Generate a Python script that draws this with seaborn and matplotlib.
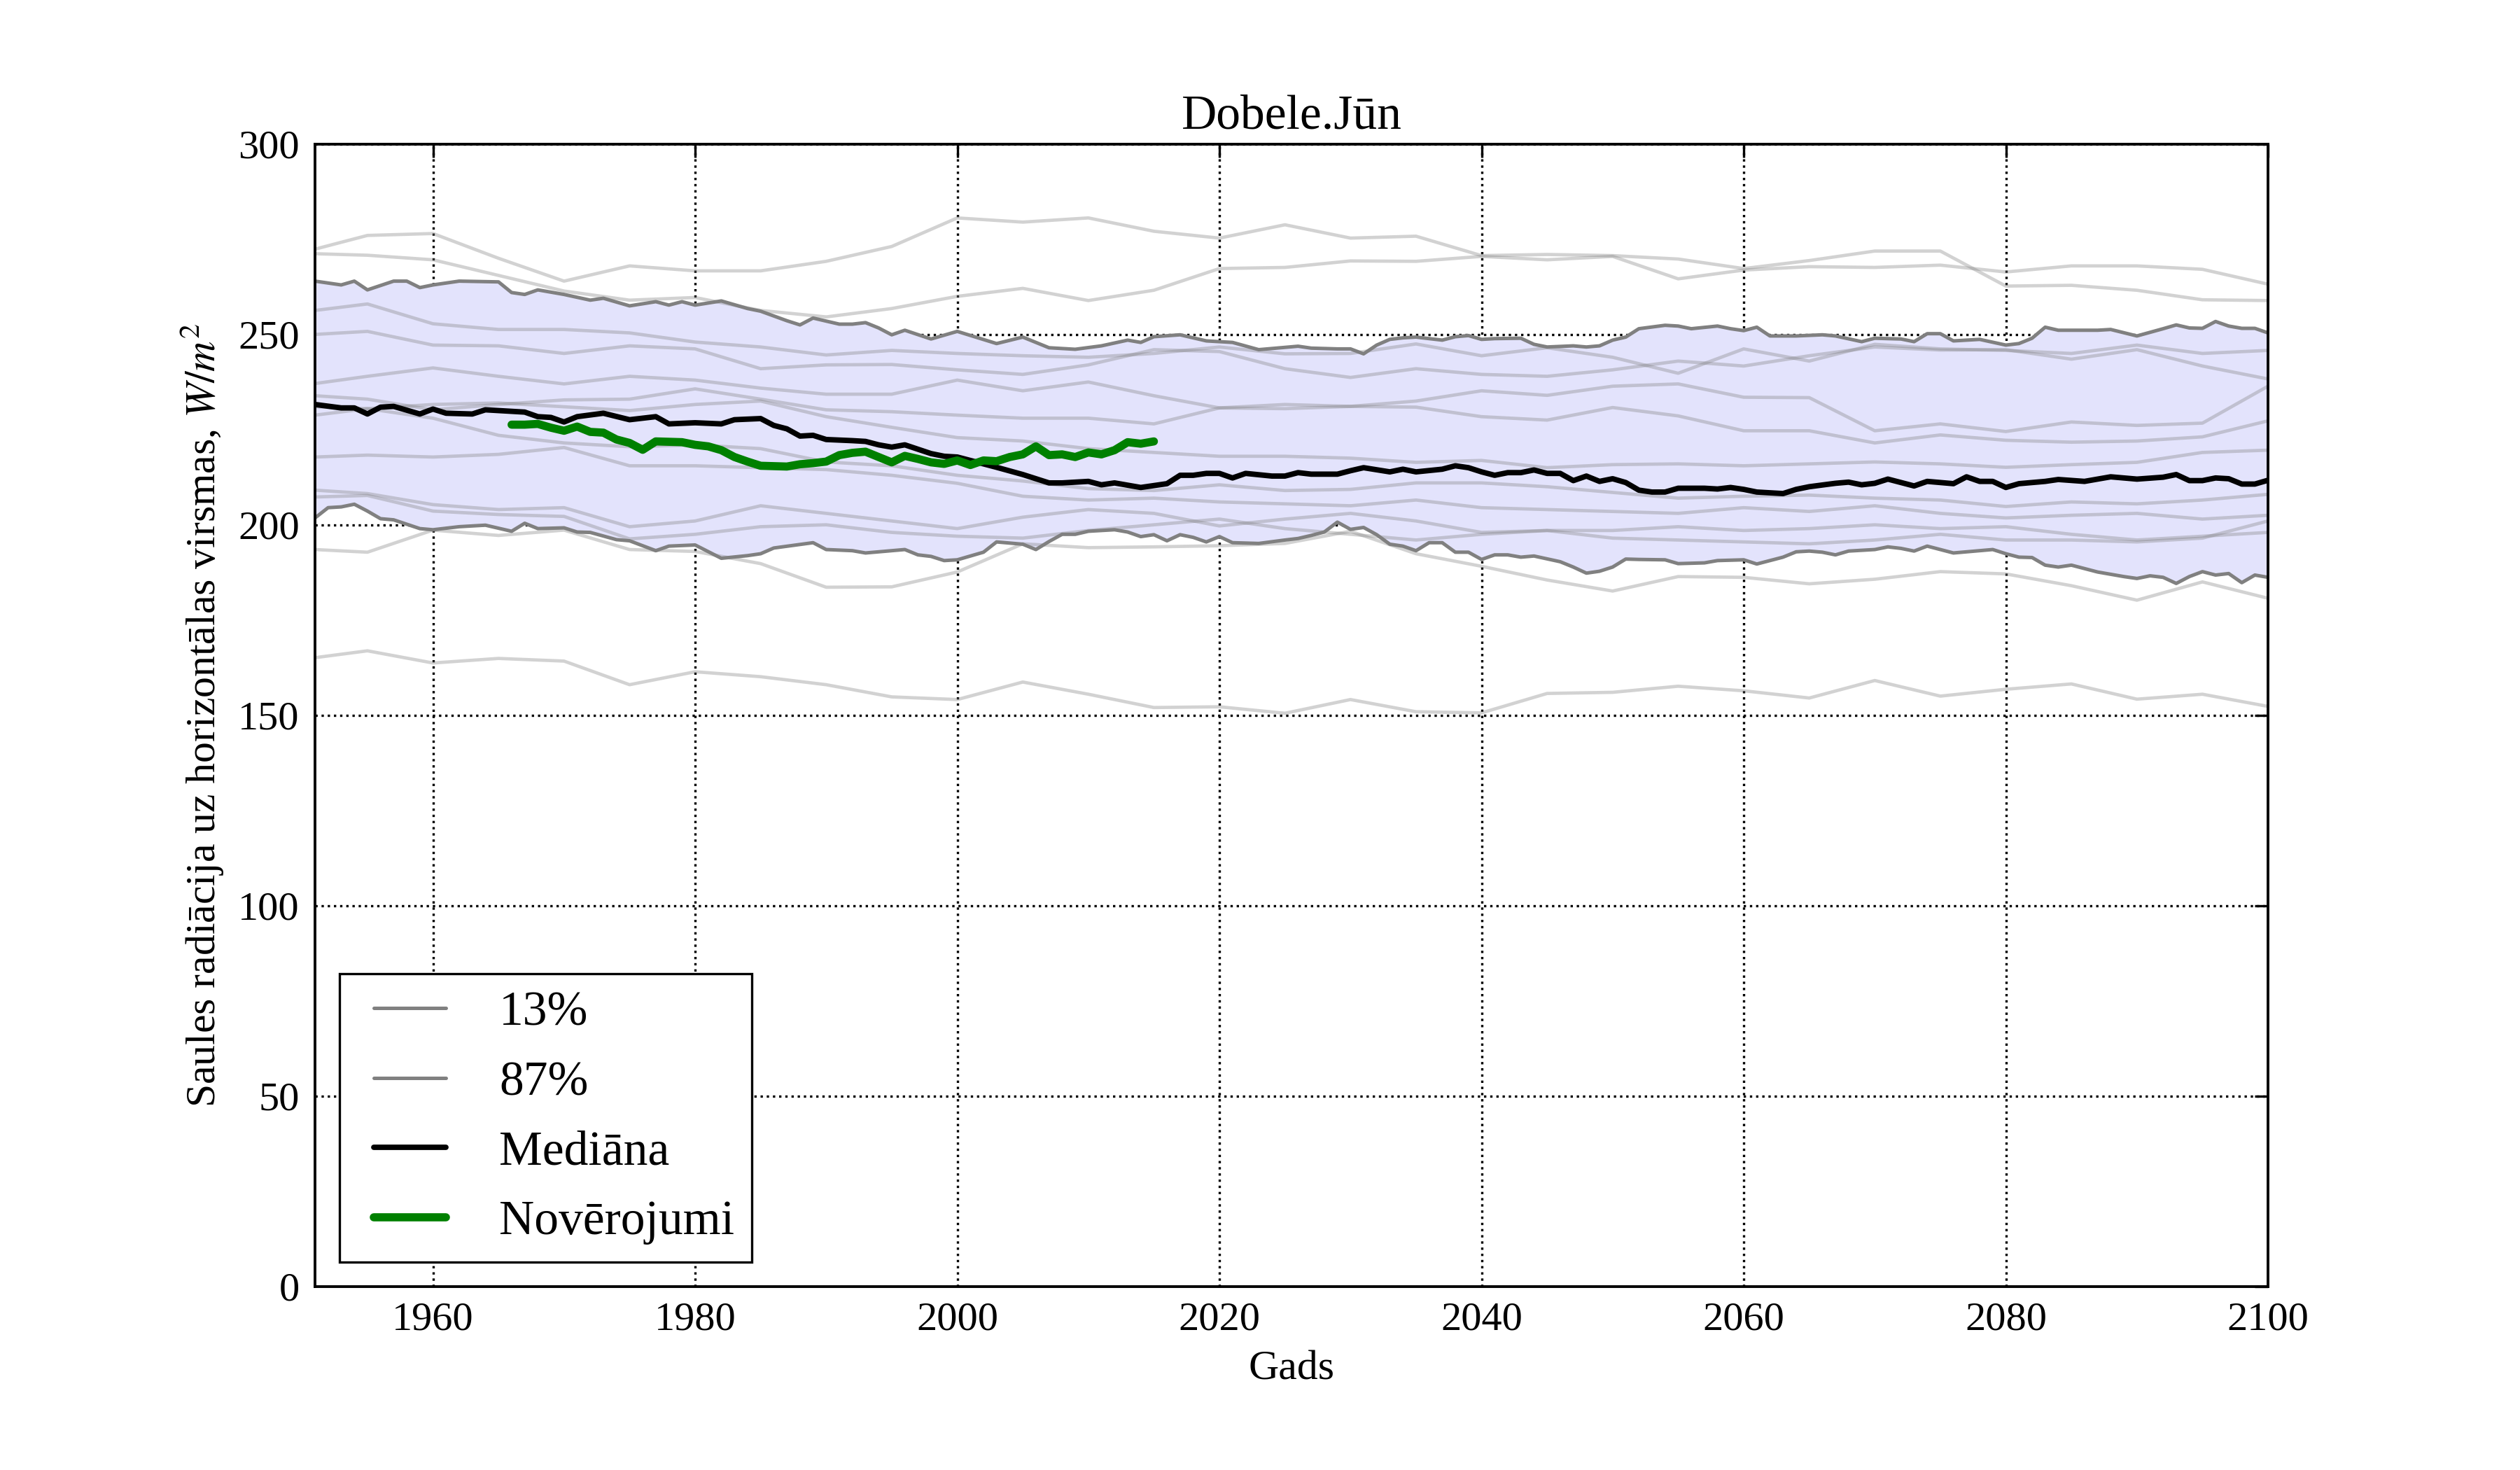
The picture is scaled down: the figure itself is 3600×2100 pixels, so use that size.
import matplotlib
matplotlib.use('Agg')
import pandas as pd
import matplotlib.pyplot as plt
import seaborn as sns
from matplotlib.lines import Line2D
from matplotlib.legend_handler import HandlerLine2D

# years of the smoothed model runs (5-year steps)
years = [1951, 1955, 1960, 1965, 1970, 1975, 1980, 1985, 1990, 1995, 2000,
         2005, 2010, 2015, 2020, 2025, 2030, 2035, 2040, 2045, 2050, 2055,
         2060, 2065, 2070, 2075, 2080, 2085, 2090, 2095, 2100]

# individual model runs (light grey)
model_a = [272.4, 276.0, 276.5, 270.0, 264.0, 268.0, 266.7, 266.7, 269.2, 273.1, 280.6,
           279.5, 280.6, 277.1, 275.3, 278.8, 275.3, 275.8, 270.7, 271.0, 270.7, 269.8,
           267.3, 269.4, 271.9, 271.9, 262.7, 262.9, 261.6, 259.1, 258.9]
model_b = [271.2, 270.8, 269.6, 265.5, 261.4, 259.0, 259.7, 256.3, 254.6, 256.8, 260.0,
           262.1, 258.9, 261.6, 267.3, 267.6, 269.3, 269.2, 270.5, 269.6, 270.5, 264.6,
           266.9, 267.8, 267.6, 268.2, 266.4, 268.0, 268.0, 267.1, 263.2]
model_c = [256.3, 258.0, 252.8, 251.3, 251.3, 250.4, 248.0, 246.7, 244.6, 245.8, 245.0,
           244.4, 244.0, 245.0, 246.7, 244.9, 245.0, 247.5, 244.4, 246.5, 244.0, 239.8,
           246.2, 243.0, 247.4, 246.2, 245.8, 245.0, 247.2, 245.0, 245.8]
model_d = [250.0, 250.8, 247.2, 247.0, 245.0, 247.0, 246.2, 241.0, 242.0, 242.1, 240.7,
           239.5, 242.0, 246.0, 245.5, 241.0, 238.7, 241.0, 239.5, 239.0, 240.7, 243.0,
           241.7, 244.4, 246.7, 245.9, 246.0, 243.5, 246.0, 241.7, 238.3]
model_e = [237.1, 239.0, 241.2, 239.0, 237.0, 239.0, 238.0, 235.9, 234.3, 234.3, 238.0,
           235.2, 237.5, 233.9, 230.7, 231.6, 231.1, 232.5, 235.2, 234.0, 236.4, 237.0,
           233.5, 233.4, 224.7, 226.5, 224.5, 227.0, 226.1, 226.7, 236.4]
model_f = [233.9, 233.0, 230.2, 231.6, 232.8, 233.0, 235.7, 233.0, 230.2, 229.7, 228.8,
           228.0, 228.0, 226.5, 230.7, 230.5, 231.1, 230.9, 228.4, 227.5, 230.8, 228.6,
           224.7, 224.7, 221.5, 223.6, 222.2, 221.7, 222.0, 223.1, 227.3]
model_g = [231.0, 230.5, 231.6, 232.0, 231.0, 230.0, 231.6, 232.5, 228.4, 225.6, 222.9,
           222.0, 220.0, 219.0, 218.0, 218.0, 217.5, 216.4, 216.9, 215.0, 215.8, 216.0,
           215.5, 216.0, 216.5, 216.0, 215.1, 215.8, 216.4, 219.0, 219.6]
model_h = [228.8, 230.5, 228.0, 223.5, 221.5, 220.5, 221.0, 220.0, 216.5, 215.5, 213.0,
           211.5, 209.5, 209.0, 210.5, 209.0, 209.3, 211.0, 211.0, 210.0, 208.5, 207.0,
           207.5, 207.8, 207.0, 206.5, 204.8, 206.0, 205.5, 206.5, 208.0]
model_i = [217.8, 218.3, 217.8, 218.5, 220.3, 215.5, 215.5, 215.0, 214.5, 213.0, 210.9,
           207.5, 206.5, 207.0, 206.0, 205.5, 205.0, 206.5, 204.5, 204.0, 203.5, 203.0,
           204.5, 203.5, 205.0, 203.0, 201.8, 202.5, 203.0, 201.5, 202.5]
model_j = [209.1, 208.2, 205.3, 204.0, 204.5, 199.5, 201.0, 205.0, 203.0, 201.0, 199.0,
           202.0, 204.0, 203.0, 199.7, 201.5, 203.0, 201.0, 198.0, 198.5, 198.5, 199.5,
           198.5, 199.0, 200.0, 199.0, 199.5, 197.5, 196.0, 197.0, 198.0]
model_k = [207.3, 207.7, 203.6, 202.7, 202.2, 196.3, 197.5, 199.5, 200.0, 198.0, 197.0,
           196.5, 198.5, 200.0, 201.5, 199.0, 197.5, 196.0, 197.5, 198.5, 196.5, 196.0,
           195.5, 195.0, 196.0, 197.5, 196.0, 196.0, 195.5, 196.5, 201.0]
model_l = [193.5, 192.8, 198.6, 197.2, 198.6, 193.5, 193.0, 189.8, 183.6, 183.7, 187.6,
           195.0, 194.0, 194.2, 194.5, 195.1, 198.3, 192.4, 189.1, 185.5, 182.6, 186.4,
           186.2, 184.5, 185.7, 187.7, 187.1, 184.0, 180.2, 185.0, 180.7]
model_m = [165.1, 166.9, 163.7, 164.9, 164.2, 158.0, 161.4, 160.1, 158.0, 154.8, 154.1,
           158.7, 155.5, 152.0, 152.2, 150.5, 154.1, 150.9, 150.6, 155.7, 156.0, 157.6,
           156.4, 154.5, 159.1, 155.0, 156.8, 158.2, 154.2, 155.5, 152.3]

# ensemble median
median_years = [1951, 1953, 1954, 1955, 1956, 1957, 1959, 1960, 1961, 1963, 1964, 1967,
                1968, 1969, 1970, 1971, 1973, 1975, 1977, 1978, 1980, 1982, 1983, 1985,
                1986, 1987, 1988, 1989, 1990, 1992, 1993, 1994, 1995, 1996, 1998, 1999,
                2000, 2002, 2003, 2005, 2007, 2008, 2010, 2011, 2012, 2014, 2016, 2017,
                2018, 2019, 2020, 2021, 2022, 2024, 2025, 2026, 2027, 2029, 2030, 2031,
                2033, 2034, 2035, 2037, 2038, 2039, 2040, 2041, 2042, 2043, 2044, 2045,
                2046, 2047, 2048, 2049, 2050, 2051, 2052, 2053, 2054, 2055, 2057, 2058,
                2059, 2060, 2061, 2063, 2064, 2065, 2067, 2068, 2069, 2070, 2071, 2072,
                2073, 2074, 2076, 2077, 2078, 2079, 2080, 2081, 2083, 2084, 2086, 2088,
                2090, 2092, 2093, 2094, 2095, 2096, 2097, 2098, 2099, 2100]
median = [231.6, 230.7, 230.7, 229.1, 230.9, 231.1, 229.1, 230.4, 229.3, 229.1, 230.2, 229.6,
          228.4, 228.2, 227.0, 228.4, 229.3, 227.6, 228.4, 226.5, 226.8, 226.5, 227.6, 227.9,
          226.1, 225.2, 223.3, 223.5, 222.4, 222.1, 221.9, 221.0, 220.4, 221.0, 218.7, 218.0,
          217.8, 216.0, 215.1, 213.2, 211.0, 211.0, 211.4, 210.5, 211.0, 209.8, 210.8, 213.0,
          213.0, 213.5, 213.5, 212.3, 213.5, 212.8, 212.8, 213.7, 213.3, 213.3, 214.2, 215.0,
          213.9, 214.6, 213.9, 214.6, 215.5, 215.0, 213.9, 213.0, 213.7, 213.7, 214.4, 213.5,
          213.5, 211.6, 212.8, 211.4, 212.1, 211.1, 209.1, 208.6, 208.6, 209.6, 209.6, 209.4,
          209.8, 209.3, 208.6, 208.2, 209.3, 210.0, 210.9, 211.2, 210.5, 210.9, 212.0, 211.1,
          210.2, 211.4, 210.8, 212.6, 211.4, 211.4, 209.8, 210.8, 211.4, 211.9, 211.4, 212.6,
          212.0, 212.5, 213.2, 211.6, 211.6, 212.3, 212.1, 210.7, 210.7, 211.7]

# 87% percentile
p87_years = [1951, 1953, 1954, 1955, 1957, 1958, 1959, 1960, 1962, 1965, 1966, 1967, 1968,
             1970, 1972, 1973, 1975, 1977, 1978, 1979, 1980, 1982, 1984, 1985, 1987, 1988,
             1989, 1991, 1992, 1993, 1994, 1995, 1996, 1998, 2000, 2003, 2005, 2007, 2009,
             2011, 2013, 2014, 2015, 2017, 2019, 2021, 2023, 2026, 2027, 2029, 2030, 2031,
             2032, 2033, 2034, 2035, 2037, 2038, 2039, 2040, 2041, 2043, 2044, 2045, 2047,
             2048, 2049, 2050, 2051, 2052, 2054, 2055, 2056, 2058, 2059, 2060, 2061, 2062,
             2064, 2066, 2067, 2069, 2070, 2072, 2073, 2074, 2075, 2076, 2078, 2080, 2081,
             2082, 2083, 2084, 2087, 2088, 2090, 2092, 2093, 2094, 2095, 2096, 2097, 2098,
             2099, 2100]
p87 = [264.0, 263.0, 264.0, 261.7, 264.0, 264.0, 262.3, 263.0, 264.0, 263.8, 261.0, 260.5, 261.7,
       260.5, 259.0, 259.5, 257.5, 258.6, 257.7, 258.6, 257.7, 258.8, 256.8, 256.1, 253.6, 252.5,
       254.3, 252.7, 252.7, 253.1, 251.7, 249.9, 251.1, 248.8, 250.8, 247.6, 249.3, 246.5, 246.1,
       247.0, 248.5, 247.9, 249.4, 249.9, 248.3, 247.9, 246.0, 246.9, 246.4, 246.2, 246.2, 244.9,
       247.2, 248.7, 249.1, 249.3, 248.5, 249.4, 249.7, 248.7, 248.9, 249.0, 247.4, 246.7, 247.0,
       246.7, 247.0, 248.5, 249.3, 251.5, 252.4, 252.2, 251.5, 252.2, 251.5, 251.0, 251.9, 249.6,
       249.6, 249.9, 249.6, 248.1, 249.0, 248.8, 248.1, 250.2, 250.2, 248.3, 248.7, 247.2, 247.6,
       249.0, 251.9, 251.1, 251.1, 251.3, 249.6, 251.5, 252.5, 251.7, 251.6, 253.4, 252.2, 251.6,
       251.6, 250.4]

# 13% percentile
p13_years = [1951, 1952, 1953, 1954, 1955, 1956, 1957, 1959, 1960, 1962, 1964, 1966, 1967,
             1968, 1970, 1971, 1972, 1974, 1975, 1976, 1977, 1978, 1980, 1982, 1984, 1985,
             1986, 1989, 1990, 1992, 1993, 1996, 1997, 1998, 1999, 2000, 2002, 2003, 2005,
             2006, 2007, 2008, 2009, 2010, 2012, 2013, 2014, 2015, 2016, 2017, 2018, 2019,
             2020, 2021, 2023, 2025, 2026, 2027, 2028, 2029, 2030, 2031, 2032, 2033, 2034,
             2035, 2036, 2037, 2038, 2039, 2040, 2041, 2042, 2043, 2044, 2046, 2047, 2048,
             2049, 2050, 2051, 2052, 2054, 2055, 2057, 2058, 2060, 2061, 2063, 2064, 2065,
             2066, 2067, 2068, 2070, 2071, 2072, 2073, 2074, 2076, 2079, 2080, 2081, 2082,
             2083, 2084, 2085, 2087, 2089, 2090, 2091, 2092, 2093, 2094, 2095, 2096, 2097,
             2098, 2099, 2100]
p13 = [201.8, 204.5, 204.7, 205.4, 203.6, 201.6, 201.3, 199.0, 198.7, 199.5, 199.9, 198.3, 200.4,
       199.0, 199.2, 198.1, 198.0, 196.1, 195.8, 194.5, 193.2, 194.4, 194.7, 191.2, 191.9, 192.4,
       193.9, 195.3, 193.5, 193.2, 192.6, 193.5, 192.1, 191.7, 190.6, 190.8, 192.8, 195.5, 194.9,
       193.5, 195.6, 197.5, 197.5, 198.3, 198.7, 198.1, 196.9, 197.4, 195.8, 197.4, 196.7, 195.5,
       196.9, 195.3, 195.1, 196.0, 196.4, 197.2, 198.1, 200.7, 198.8, 199.3, 197.4, 194.9, 194.4,
       193.2, 195.3, 195.3, 192.8, 192.8, 190.9, 192.1, 192.1, 191.5, 191.8, 190.3, 188.9, 187.3,
       187.8, 188.9, 191.0, 190.9, 190.8, 189.8, 190.0, 190.6, 190.8, 189.7, 191.5, 192.9, 193.1,
       192.8, 192.1, 193.1, 193.5, 194.2, 193.8, 193.1, 194.4, 192.6, 193.5, 192.4, 191.5, 191.4,
       189.4, 188.9, 189.4, 187.6, 186.4, 185.9, 186.6, 186.2, 184.6, 186.4, 187.7, 186.8, 187.2,
       184.8, 186.8, 186.2]

# observations
obs_years = list(range(1966, 2016))
obs = [226.3, 226.3, 226.5, 225.5, 224.7, 225.8, 224.4, 224.2, 222.4, 221.5,
       219.7, 221.9, 221.8, 221.7, 221.0, 220.6, 219.6, 217.8, 216.6, 215.5,
       215.4, 215.3, 215.9, 216.2, 216.6, 218.3, 218.9, 219.2, 217.8, 216.4,
       218.1, 217.3, 216.4, 216.0, 216.9, 215.7, 216.9, 216.7, 217.8, 218.5,
       220.6, 218.3, 218.5, 217.8, 219.0, 218.5, 219.6, 221.7, 221.3, 221.9]

models = {'a': model_a, 'b': model_b, 'c': model_c, 'd': model_d, 'e': model_e,
          'f': model_f, 'g': model_g, 'h': model_h, 'i': model_i, 'j': model_j,
          'k': model_k, 'l': model_l, 'm': model_m}
runs = pd.concat([pd.DataFrame({'year': years, 'val': v, 'model': k})
                  for k, v in models.items()], ignore_index=True)
med_df = pd.DataFrame({'year': median_years, 'val': median})
hi_df = pd.DataFrame({'year': p87_years, 'val': p87})
lo_df = pd.DataFrame({'year': p13_years, 'val': p13})
obs_df = pd.DataFrame({'year': obs_years, 'val': obs})

sns.set_theme(style='white')
plt.rcParams['font.family'] = ['Liberation Serif', 'DejaVu Serif']
plt.rcParams['mathtext.fontset'] = 'stix'
for key in ['text.color', 'axes.labelcolor', 'xtick.color', 'ytick.color', 'axes.edgecolor']:
    plt.rcParams[key] = 'black'

fig, ax = plt.subplots(figsize=(18, 10.5), dpi=200)
fig.subplots_adjust(left=0.125, right=0.9, top=0.902, bottom=0.125)

# band between the 13% and 87% lines
band_x = list(hi_df['year']) + list(lo_df['year'][::-1])
band_y = list(hi_df['val']) + list(lo_df['val'][::-1])
ax.fill(band_x, band_y, color='#e3e3fc', lw=0, zorder=1)

sns.lineplot(data=runs, x='year', y='val', units='model', estimator=None,
             color='gray', alpha=0.35, lw=1.7, legend=False, ax=ax)
sns.lineplot(data=lo_df, x='year', y='val', color='gray', lw=1.8, label='13%', ax=ax)
sns.lineplot(data=hi_df, x='year', y='val', color='gray', lw=1.8, label='87%', ax=ax)
sns.lineplot(data=med_df, x='year', y='val', color='black', lw=2.8,
             label='Mediāna', ax=ax)
sns.lineplot(data=obs_df, x='year', y='val', color='green', lw=4.2,
             label='Novērojumi', ax=ax)

ax.set_xlim(1951, 2100)
ax.set_ylim(0, 300)
ax.set_xticks(range(1960, 2101, 20))
ax.set_yticks(range(0, 301, 50))
ax.grid(True, color='black', linestyle=':', lw=1.2)
ax.tick_params(direction='in', top=True, right=True, length=7, width=1.2,
               labelsize=21, pad=8)
for s in ax.spines.values():
    s.set_linewidth(1.4)
    s.set_color('black')

ax.set_title('Dobele.Jūn', fontsize=25, pad=8)
ax.set_xlabel('Gads', fontsize=21.5, labelpad=6.5)
ax.set_ylabel('Saules radiācija uz horizontālas virsmas, $W/m^2$', fontsize=21.5,
              labelpad=6.5)

leg = ax.legend(loc='lower left', fontsize=25, fancybox=False, edgecolor='black',
                framealpha=1, handlelength=1.84, handletextpad=1.1, borderpad=0.35,
                labelspacing=0.52, borderaxespad=0.5,
                handler_map={Line2D: HandlerLine2D(xpad=0.36)})
leg.get_frame().set_linewidth(1.2)

fig.savefig('out.png', dpi=200)
